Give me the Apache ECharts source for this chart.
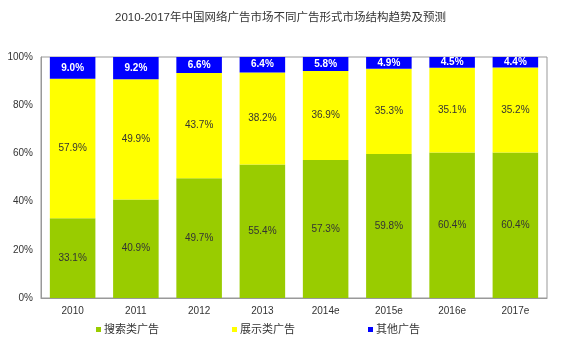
<!DOCTYPE html>
<html><head><meta charset="utf-8">
<script src="https://cdn.jsdelivr.net/npm/echarts@6/dist/echarts.min.js"></script>
<style>html,body{margin:0;padding:0;background:#fff}#c{width:561px;height:343px}</style>
</head><body><div id="c"></div>
<script>
const categories = ['2010','2011','2012','2013','2014e','2015e','2016e','2017e'];
const searchAds = [33.1,40.9,49.7,55.4,57.3,59.8,60.4,60.4];
const displayAds = [57.9,49.9,43.7,38.2,36.9,35.3,35.1,35.2];
const otherAds = [9.0,9.2,6.6,6.4,5.8,4.9,4.5,4.4];
const yTicks = [0,20,40,60,80,100];
const FONT = '"Liberation Sans","Noto Sans CJK SC",sans-serif';
const chart = echarts.init(document.getElementById('c'));
const lbl = (color, bold) => ({show:true, position:'inside', color:color, fontSize:10, fontWeight: bold?'bold':'normal', fontFamily:FONT, formatter: p => p.value.toFixed(1)+'%'});
chart.setOption({
  animation:false,
  textStyle:{fontFamily:FONT},
  title:{text:'2010-2017年中国网络广告市场不同广告形式市场结构趋势及预测', left:'center', top:7,
    textStyle:{fontSize:11.5, fontWeight:'normal', color:'#333', fontFamily:FONT}},
  legend:{bottom:3, left:91, itemWidth:5, itemHeight:5, itemGap:73, icon:'rect',
    textStyle:{fontSize:11, color:'#333', padding:[0,0,0,-2]},
    data:['搜索类广告','展示类广告','其他广告']},
  grid:{left:41, right:14, top:57, bottom:45, show:true, borderColor:'#999', borderWidth:1},
  xAxis:{type:'category', data:categories,
    axisLine:{lineStyle:{color:'#999'}}, axisTick:{show:false},
    axisLabel:{color:'#333', fontSize:10, margin:8}},
  yAxis:{type:'value', min:0, max:100, interval:20,
    axisLine:{show:true, lineStyle:{color:'#999'}}, axisTick:{show:false}, splitLine:{show:false},
    axisLabel:{color:'#333', fontSize:10, margin:8, formatter: v => yTicks.includes(v) ? v+'%' : ''}},
  series:[
    {name:'搜索类广告', type:'bar', stack:'a', data:searchAds, barWidth:'72%', itemStyle:{color:'#99CC00'}, label:lbl('#333')},
    {name:'展示类广告', type:'bar', stack:'a', data:displayAds, itemStyle:{color:'#FFFF00'}, label:lbl('#333')},
    {name:'其他广告', type:'bar', stack:'a', data:otherAds, itemStyle:{color:'#0000FF'}, label:lbl('#fff', true)}
  ]
});
</script></body></html>
